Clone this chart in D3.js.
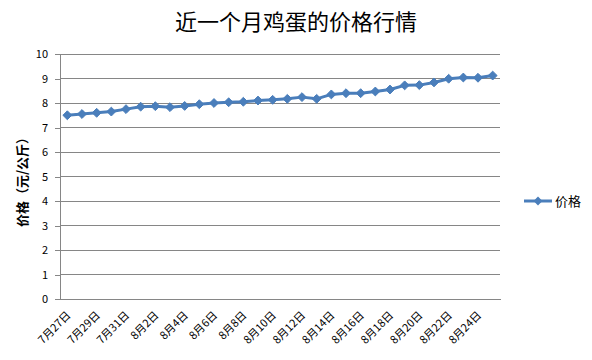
<!DOCTYPE html>
<html><head><meta charset="utf-8">
<script src="https://cdn.jsdelivr.net/npm/d3@7"></script>
<style>body{margin:0;background:#fff;} text{font-family:"Noto Sans CJK SC","Noto Sans",sans-serif;}</style>
</head><body>
<svg id="c" width="592" height="360"></svg>
<script>
const title = "近一个月鸡蛋的价格行情";
const yLabel = "价格（元/公斤）";
const seriesName = "价格";
const categories = ["7月27日","7月28日","7月29日","7月30日","7月31日","8月1日","8月2日","8月3日","8月4日","8月5日","8月6日","8月7日","8月8日","8月9日","8月10日","8月11日","8月12日","8月13日","8月14日","8月15日","8月16日","8月17日","8月18日","8月19日","8月20日","8月21日","8月22日","8月23日","8月24日","8月25日"];
const prices = [7.5,7.55,7.6,7.65,7.75,7.85,7.87,7.83,7.88,7.95,8.0,8.03,8.05,8.1,8.13,8.17,8.24,8.17,8.35,8.4,8.4,8.47,8.55,8.72,8.73,8.84,8.99,9.04,9.03,9.12];
const yTicks = [0,1,2,3,4,5,6,7,8,9,10];

const svg = d3.select("#c");
const L=60,R=500,T=54,B=299;
const x = d3.scaleBand().domain(categories).range([L,R]);
const y = d3.scaleLinear().domain([0,10]).range([B,T]);
const cx = d => x(d)+x.bandwidth()/2;

// gridlines
svg.append("g").selectAll("line").data(yTicks.filter(t=>t>0)).join("line")
  .attr("x1",L).attr("x2",R).attr("y1",d=>y(d)).attr("y2",d=>y(d))
  .attr("stroke","#868686").attr("stroke-width",1).attr("shape-rendering","crispEdges");

// y axis
const ya = svg.append("g").attr("transform",`translate(${L},0)`)
  .call(d3.axisLeft(y).tickValues(yTicks).tickSize(5).tickPadding(7));
ya.select(".domain").attr("stroke","#868686").attr("shape-rendering","crispEdges");
ya.selectAll(".tick line").attr("stroke","#868686").attr("shape-rendering","crispEdges");
ya.selectAll("text").attr("font-size",11).attr("fill","#000").attr("font-family","'Liberation Sans',Arial,sans-serif");

// x axis
const xa = svg.append("g").attr("transform",`translate(0,${B})`)
  .call(d3.axisBottom(x).tickValues(categories.filter((d,i)=>i%2===0)).tickSize(0).tickSizeOuter(0));
xa.select(".domain").attr("stroke","#868686").attr("shape-rendering","crispEdges");
xa.selectAll(".tick text").attr("font-size",11).attr("fill","#000")
  .attr("text-anchor","end").attr("dy",null).attr("y",null)
  .attr("transform","translate(4,17) rotate(-45)");

// line
const line = d3.line().x((d,i)=>cx(categories[i])).y(d=>y(d));
svg.append("path").datum(prices).attr("d",line).attr("fill","none")
  .attr("stroke","#4A7EBB").attr("stroke-width",3).attr("stroke-linejoin","round");
const diamond = d3.symbol().type(d3.symbolDiamond2).size(50);
svg.append("g").selectAll("path").data(prices).join("path")
  .attr("d",diamond).attr("transform",(d,i)=>`translate(${cx(categories[i])},${y(d)})`)
  .attr("fill","#4A7EBB").attr("stroke","#4A7EBB").attr("stroke-width",1);

// title
svg.append("text").attr("x",296).attr("y",30).attr("text-anchor","middle")
  .attr("font-size",22).attr("fill","#000").text(title);

// y label
svg.append("text").attr("transform","translate(27,179) rotate(-90)").attr("text-anchor","middle")
  .attr("font-size",13).attr("font-weight","bold").attr("fill","#000").text(yLabel);

// legend
const lg = svg.append("g");
lg.append("line").attr("x1",524).attr("x2",552).attr("y1",201).attr("y2",201)
  .attr("stroke","#4A7EBB").attr("stroke-width",3);
lg.append("path").attr("d",diamond).attr("transform","translate(538,201)").attr("fill","#4A7EBB");
lg.append("text").attr("x",555).attr("y",206).attr("font-size",13).attr("fill","#000").text(seriesName);
</script>
</body></html>
